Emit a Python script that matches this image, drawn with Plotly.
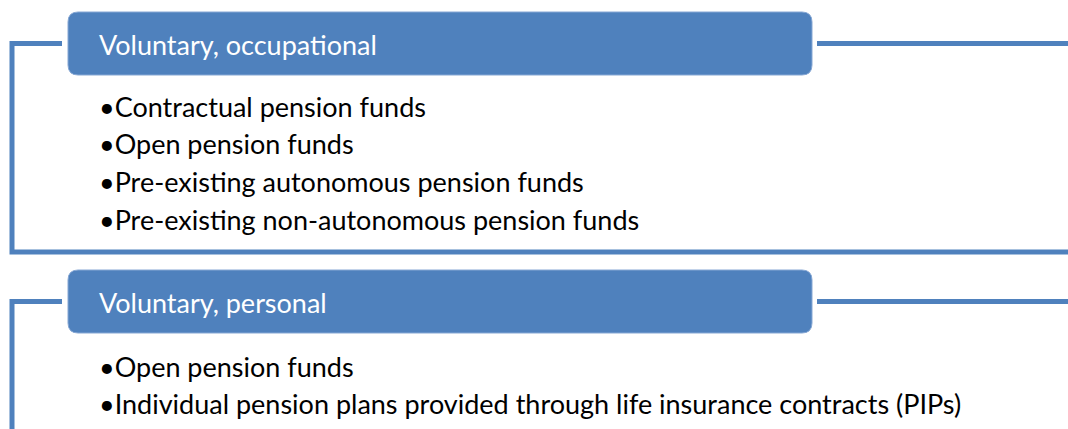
import plotly.graph_objects as go

W, H = 1068, 429
headers = ["Voluntary, occupational", "Voluntary, personal"]
items = [
    ["Contractual pension funds", "Open pension funds",
     "Pre-existing autonomous pension funds", "Pre-existing non-autonomous pension funds"],
    ["Open pension funds",
     "Individual pension plans provided through life insurance contracts (PIPs)"],
]

BLUE = "#4F81BD"
FONT = "Lato"

# layout geometry (pixels)
box_top = [12, 270]
box_h = 63
box_x0, box_x1 = 68, 812
line_y = [43.5, 301.5]
bottom_y = [252, None]
text_y0 = [106, 366]
line_gap = 37.7
text_x = 97

shapes = []
annotations = []

def rounded(x0, y0, x1, y1, r):
    return (f"M{x0+r},{y0} L{x1-r},{y0} Q{x1},{y0} {x1},{y0+r} L{x1},{y1-r} Q{x1},{y1} {x1-r},{y1} "
            f"L{x0+r},{y1} Q{x0},{y1} {x0},{y1-r} L{x0},{y0+r} Q{x0},{y0} {x0+r},{y0} Z")

for i, head in enumerate(headers):
    ly = line_y[i]
    yb = bottom_y[i] if bottom_y[i] is not None else H + 10
    path = f"M62,{ly} L12,{ly} L12,{yb}"
    if bottom_y[i] is not None:
        path += f" L{W+10},{yb}"
    shapes.append(dict(type="path", path=path, line=dict(color=BLUE, width=5), layer="below"))
    shapes.append(dict(type="line", x0=817, x1=W + 10, y0=ly, y1=ly, line=dict(color=BLUE, width=5)))
    t = box_top[i]
    shapes.append(dict(type="path", path=rounded(box_x0, t, box_x1, t + box_h, 10),
                       fillcolor=BLUE, line=dict(color="#86A7D4", width=1)))
    annotations.append(dict(x=text_x, y=t + box_h / 2 + 1, text=head, showarrow=False,
                            xanchor="left", yanchor="middle",
                            font=dict(family=FONT, size=27, color="white")))
    for j, it in enumerate(items[i]):
        annotations.append(dict(x=text_x, y=text_y0[i] + j * line_gap, text="•" + it,
                                showarrow=False, xanchor="left", yanchor="middle",
                                font=dict(family=FONT, size=27, color="black")))

fig = go.Figure()
fig.update_layout(
    width=W, height=H, margin=dict(l=0, r=0, t=0, b=0),
    paper_bgcolor="white", plot_bgcolor="white",
    xaxis=dict(range=[0, W], visible=False, fixedrange=True),
    yaxis=dict(range=[H, 0], visible=False, fixedrange=True),
    shapes=shapes, annotations=annotations, showlegend=False,
)
fig.write_html("out.html", config={"displayModeBar": False},
               post_script="document.body.style.margin='0';document.body.style.overflow='hidden';")
